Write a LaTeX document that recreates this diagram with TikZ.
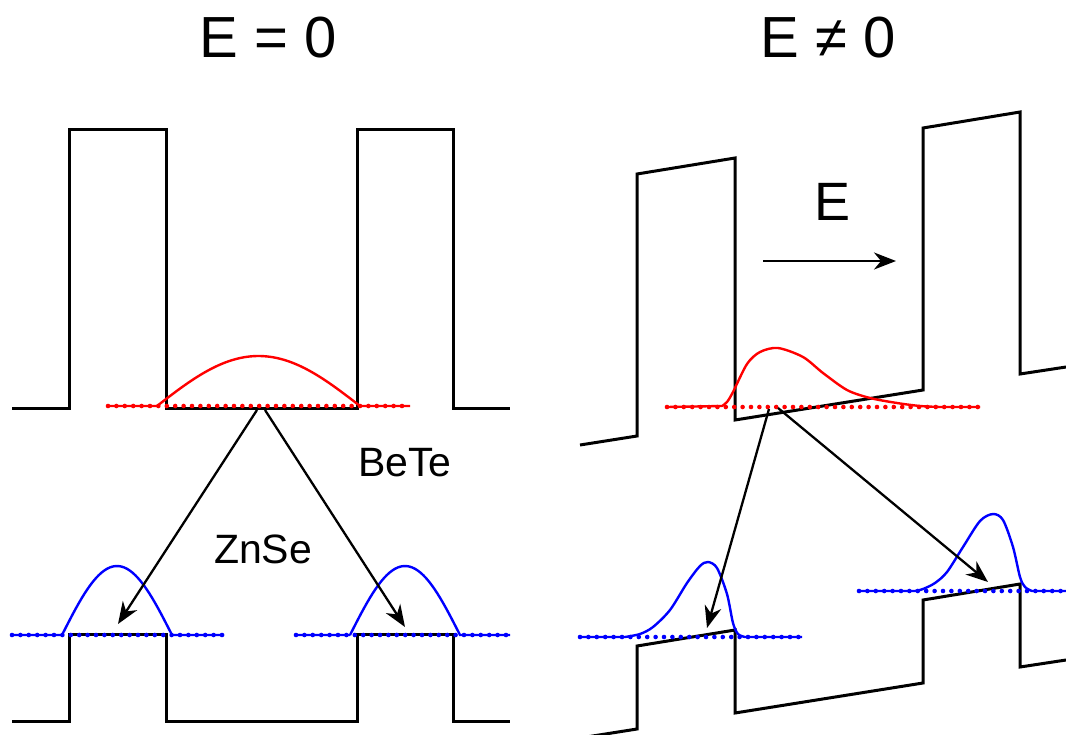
\documentclass[tikz,border=0pt]{standalone}
\usepackage{fontspec}
\setmainfont{Liberation Sans}
\usepackage{xcolor}
\usepackage{tikz}
\usetikzlibrary{arrows.meta}
\definecolor{eletron}{RGB}{255,0,0}
\definecolor{lacuna}{RGB}{0,0,255}

\begin{document}
\begin{tikzpicture}[
        x=1pt, y=-1pt,
        banda/.style={line width=3pt,line join=miter},
        nivel/.style={line width=4.6pt,line cap=round,dash pattern=on 0pt off 8.4pt},
        onda/.style={line width=2.4pt},
        seta/.style={-{Stealth[length=22pt,width=17pt,inset=7pt]},line width=2.3pt},
        titulo/.style={font=\fontsize{58}{60}\selectfont},
        rotulo/.style={font=\fontsize{41}{44}\selectfont}
    ]
        \clip (0,0) rectangle (1066,734);

        \node[titulo] (semcampo) at (268,38) {E = 0};
        \node[titulo] (comcampo) at (828,38) {E ≠ 0};
        \node[rotulo] (bete) at (405,463) {BeTe};
        \node[rotulo] (znse) at (263,549) {ZnSe};
        \node[font=\fontsize{54}{56}\selectfont] (campo) at (832,202) {E};

        \draw[banda] (12,408) -- (69,408) -- (69,129) -- (166,129) -- (166,408) -- (357,408)
            -- (357,129) -- (453,129) -- (453,408) -- (510,408);
        \draw[banda] (12,721) -- (69,721) -- (69,634) -- (166,634) -- (166,721) -- (357,721)
            -- (357,634) -- (453,634) -- (453,721) -- (510,721);
        \draw[banda] (580,445) -- (637,436) -- (637,174) -- (735,158) -- (735,420) -- (923,390)
            -- (923,128) -- (1020,112) -- (1020,374) -- (1066,367);
        \draw[banda] (580,738) -- (637,729) -- (637,646) -- (735,630) -- (735,713) -- (923,683)
            -- (923,600) -- (1020,584) -- (1020,667) -- (1066,660);

        \draw[nivel,eletron] (108,406) -- (410,406);
        \draw[nivel,lacuna] (12,635) -- (224,635);
        \draw[nivel,lacuna] (296,635) -- (510,635);
        \draw[nivel,eletron] (667,407) -- (980,407);
        \draw[nivel,lacuna] (580,637) -- (802,637);
        \draw[nivel,lacuna] (859,591) -- (1066,591);

        \draw[onda,eletron] (108,406) -- (157,406)
            plot[domain=157:360,samples=60] (\x,{406-50*sin((\x-157)/203*180)}) -- (410,406);
        \draw[onda,lacuna] (12,635) -- (62,635)
            plot[domain=62:172,samples=40] (\x,{635-69*sin((\x-62)/110*180)}) -- (224,635);
        \draw[onda,lacuna] (296,635) -- (350,635)
            plot[domain=350:460,samples=40] (\x,{635-69*sin((\x-350)/110*180)}) -- (510,635);
        \draw[onda,eletron] (667,407) -- (722,406)
            plot[smooth] coordinates {(722,406) (727,402) (733,392) (747,364) (760,352) (778,348)
            (803,357) (823,373) (847,390) (870,398) (897,403) (920,406) (940,407)} -- (980,407);
        \draw[onda,lacuna] (580,637) -- (625,637)
            plot[smooth] coordinates {(625,637) (640,634) (653,627) (670,610) (687,583) (700,566)
            (708,562) (717,568) (727,594) (733,623) (738,634) (745,637)} -- (802,637);
        \draw[onda,lacuna] (859,591) -- (915,591)
            plot[smooth] coordinates {(915,591) (923,589) (935,583) (947,572) (963,547) (980,521)
            (993,514) (1003,520) (1013,547) (1020,577) (1025,587) (1032,591)} -- (1066,591);

        \coordinate (origemA) at (257,410);
        \coordinate (origemB) at (265,410);
        \coordinate (destinoA) at (118,624);
        \coordinate (destinoB) at (405,627);
        \coordinate (origemC) at (769,409);
        \coordinate (origemD) at (778,408);
        \coordinate (destinoC) at (707,628);
        \coordinate (destinoD) at (988,582);
        \coordinate (campoini) at (763,261);
        \coordinate (campofim) at (896,261);

        \draw[seta] (origemA) -- (destinoA);
        \draw[seta] (origemB) -- (destinoB);
        \draw[seta] (origemC) -- (destinoC);
        \draw[seta] (origemD) -- (destinoD);
        \draw[seta] (campoini) -- (campofim);
    \end{tikzpicture}
\end{document}
